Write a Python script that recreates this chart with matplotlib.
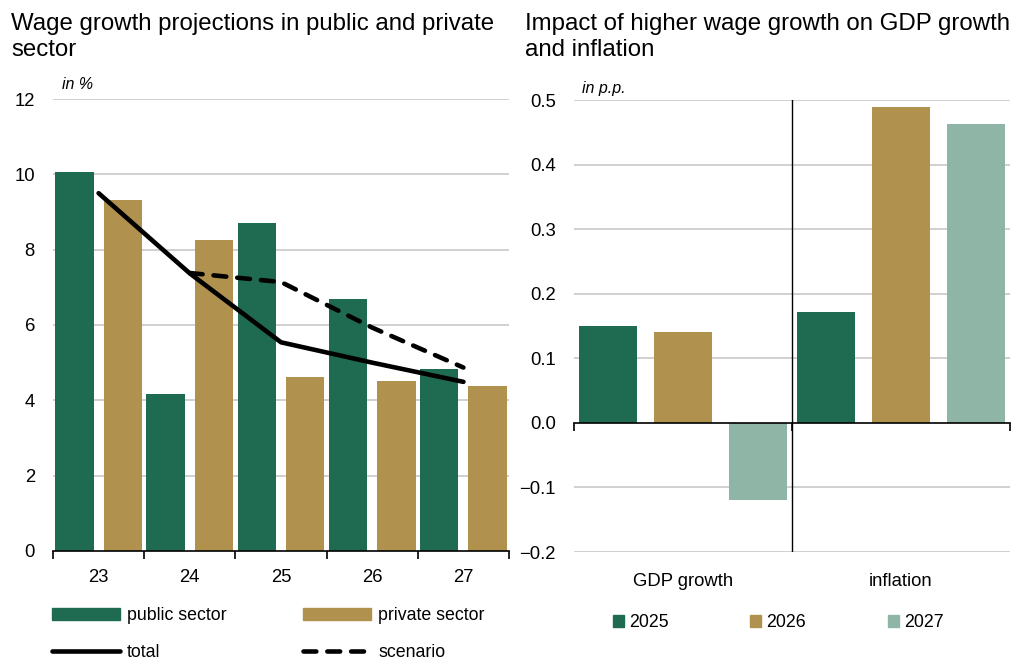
import matplotlib
matplotlib.use("Agg")
import matplotlib.pyplot as plt
from matplotlib.patches import Patch
from matplotlib.lines import Line2D
import numpy as np

plt.rcParams['font.family'] = ['Liberation Sans', 'DejaVu Sans']

GREEN = '#1f6b52'
GOLD = '#b0914e'
LIGHT = '#8fb5a7'
GRID = '#c8c8c8'

# left panel: wage growth, in %
years = ['23', '24', '25', '26', '27']
public_sector = [10.05, 4.18, 8.72, 6.68, 4.84]
private_sector = [9.33, 8.26, 4.62, 4.50, 4.37]
total = [9.50, 7.37, 5.54, 5.00, 4.49]
scenario_years = ['24', '25', '26', '27']
scenario = [7.38, 7.14, 5.93, 4.87]

# right panel: impact in p.p.
impact_cats = ['GDP growth', 'inflation']
impact_years = ['2025', '2026', '2027']
impact = {
    '2025': [0.15, 0.171],
    '2026': [0.14, 0.49],
    '2027': [-0.12, 0.463],
}
impact_colors = [GREEN, GOLD, LIGHT]

fig = plt.figure(figsize=(10.13, 6.6), dpi=100)
ax1 = fig.add_axes([0.0523, 0.1652, 0.4502, 0.6848])
ax2 = fig.add_axes([0.5666, 0.1636, 0.4304, 0.6848])

TICK_FS = 13.3
LEG_FS = 12.8
TITLE_FS = 17.3

# ---- left chart ----
x = np.arange(len(years))
ax1.bar(x - 0.265, public_sector, width=0.42, color=GREEN, zorder=2)
ax1.bar(x + 0.265, private_sector, width=0.42, color=GOLD, zorder=2)
ax1.plot(x, total, color='black', lw=3.3, solid_capstyle='round', zorder=3)
xs = [years.index(y) for y in scenario_years]
ax1.plot(xs, scenario, color='black', lw=3.3, dashes=(2.8, 2.4),
         dash_capstyle='round', zorder=3)

ax1.set_xlim(-0.5, len(years) - 0.5)
ax1.set_ylim(0, 12)
ax1.set_yticks(range(0, 13, 2))
for v in range(2, 13, 2):
    ax1.axhline(v, color=GRID, lw=1.2, zorder=1)
ax1.set_xticks(np.arange(-0.5, len(years), 1.0))
ax1.set_xticklabels([])
ax1.set_xticks(x, minor=True)
ax1.set_xticklabels(years, minor=True)
ax1.tick_params(axis='x', which='major', length=6, width=1.2, color='black')
ax1.tick_params(axis='x', which='minor', length=0, pad=13, labelsize=TICK_FS)
ax1.tick_params(axis='y', length=0, pad=13, labelsize=TICK_FS)
for s in ['top', 'right', 'left']:
    ax1.spines[s].set_visible(False)
ax1.spines['bottom'].set_linewidth(1.2)
ax1.text(0.02, 1.015, 'in %', transform=ax1.transAxes, style='italic',
         fontsize=11.5, va='bottom', ha='left')

# ---- right chart ----
xc = np.arange(len(impact_cats))
offsets = [-0.344, 0.0, 0.344]
for yr, off, col in zip(impact_years, offsets, impact_colors):
    ax2.bar(xc + off, impact[yr], width=0.27, color=col, zorder=2)

ax2.set_xlim(-0.5, len(impact_cats) - 0.5)
ax2.set_ylim(-0.2, 0.5)
yt = np.round(np.arange(-0.2, 0.51, 0.1), 1)
ax2.set_yticks(yt)
ax2.set_yticklabels([f'{v:.1f}'.replace('-', '\u2212') for v in yt])
for v in yt:
    if v != 0:
        ax2.axhline(v, color=GRID, lw=1.2, zorder=1)
ax2.axvline(0.5, color='black', lw=1.0, zorder=3)
ax2.spines['bottom'].set_position(('data', 0))
ax2.spines['bottom'].set_linewidth(1.2)
ax2.spines['bottom'].set_zorder(3)
for s in ['top', 'right', 'left']:
    ax2.spines[s].set_visible(False)
ax2.set_xticks(np.arange(-0.5, len(impact_cats), 1.0))
ax2.set_xticklabels([])
ax2.tick_params(axis='x', length=6, width=1.2, color='black')
ax2.tick_params(axis='y', length=0, pad=13, labelsize=TICK_FS)
for i, c in enumerate(impact_cats):
    ax2.text(i, -0.246, c, ha='center', va='center', fontsize=TICK_FS)
ax2.text(0.018, 1.01, 'in p.p.', transform=ax2.transAxes, style='italic',
         fontsize=11.5, va='bottom', ha='left')

# ---- titles ----
fig.text(11 / 1013, 1 - 13 / 660,
         'Wage growth projections in public and private\nsector',
         fontsize=TITLE_FS, va='top', ha='left', linespacing=1.24)
fig.text(525 / 1013, 1 - 13 / 660,
         'Impact of higher wage growth on GDP growth\nand inflation',
         fontsize=TITLE_FS, va='top', ha='left', linespacing=1.24)

# ---- legends ----
h_left = [Patch(color=GREEN, label='public sector'),
          Line2D([], [], color='black', lw=3.3, solid_capstyle='round', label='total'),
          Patch(color=GOLD, label='private sector'),
          Line2D([], [], color='black', lw=3.3, dashes=(2.8, 2.4),
                 dash_capstyle='round', label='scenario')]
fig.legend(handles=h_left, ncol=2, loc='upper left',
           bbox_to_anchor=(52 / 1013, 1 - 607 / 660), frameon=False,
           fontsize=LEG_FS, handlelength=3.83, handleheight=0.62,
           handletextpad=0.4, columnspacing=4.3, labelspacing=1.1,
           borderaxespad=0, borderpad=0)

h_right = [Patch(color=c, label=yr) for yr, c in zip(impact_years, impact_colors)]
fig.legend(handles=h_right, ncol=3, loc='upper left',
           bbox_to_anchor=(613 / 1013, 1 - 614 / 660), frameon=False,
           fontsize=LEG_FS, handlelength=0.62, handleheight=0.62,
           handletextpad=0.28, columnspacing=4.6,
           borderaxespad=0, borderpad=0)

fig.savefig('out.png', dpi=100)
